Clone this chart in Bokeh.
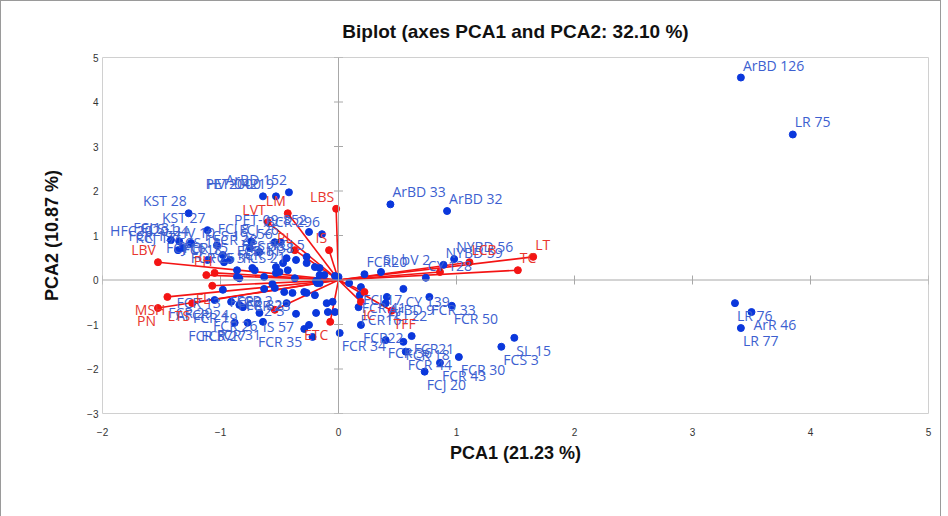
import numpy as np
from bokeh.plotting import figure
from bokeh.models import ColumnDataSource, Span, FixedTicker, Legend, LegendItem, Range1d
from bokeh.core.properties import value
from bokeh.embed import file_html
from bokeh.resources import INLINE

# ---------------- data ----------------
obs_names = [
    "ArBD 126", "LR 75", "LR 76", "ArR 46", "LR 77",
    "ArBD 33", "ArBD 32", "NYBD 56", "NYBD 59", "CY 128", "SL bV 2", "FCR20",
    "CY 139", "FCR 33", "FCR 50", "ArBD 9", "FCJ 17", "FCR 41", "FCR16", "FCJ 22",
    "FCR22", "FCR 34", "FCR21", "FCR 36", "FCR 18", "FCR 44", "FCR 43", "FCR 30", "FCJ 20",
    "FCS 3", "SL 15",
    "ArBD 152", "PET-04219", "HV 2000", "KST 28", "KST 27", "PET-09-852", "BCR 296",
    "FCJ13", "FCS-1", "HFC2020-24", "HV 10", "RCJ 17", "FCR 197", "FCJ 8", "56",
    "FCJ 26", "FCS 19", "FCR 28", "FCJ 5", "FCR 38", "FCS 38", "FCR 11", "FCJ 16",
    "FCS 12", "FCR 15", "FCR 25", "FCS 31", "FCR 9", "FCS 21", "FCJ 18",
    "", "", "", "", "", "", "", "", "", "", "", "", "", "", "", "", "", "", "", "",
    "FCR2", "FCR 2", "FCR 32", "FCR 23", "2-3", "IS 57", "FCR 26", "AFCR 24", "FCR 19",
    "FCR 37", "FCR 27", "FCR 31", "FCR 29", "FCR 13", "FCR 35",
    "", "", "", "", "", "", "", "", "", "",
]
obs_x = [
    3.41, 3.85, 3.36, 3.50, 3.41,
    0.44, 0.92, 0.98, 0.89, 0.74, 0.36, 0.22,
    0.55, 0.77, 0.96, 0.41, 0.19, 0.18, 0.17, 0.40,
    0.19, 0.01, 0.62, 0.40, 0.55, 0.57, 0.86, 1.02, 0.73,
    1.38, 1.49,
    -0.42, -0.53, -0.64, -1.27, -1.11, -0.25, -0.14,
    -1.42, -1.35, -1.25, -1.03, -1.36, -1.32, -0.74, -0.54,
    -0.49, -0.75, -0.67, -0.27, -0.36, -0.44, -0.47, -1.11,
    -0.98, -0.92, -0.86, -0.71, -0.53, -0.43, -0.97,
    -0.20, -0.63, -0.86, -0.73, -0.84, -0.53, -0.16, -0.12, -0.56, -0.27, -0.16, -0.03,
    0.00, -0.19, -0.18, 0.09, -0.29, -0.20, -0.05, -0.09,
    -0.63, -0.54, -0.46, -0.39, -0.44, -0.36, -0.67, -0.91, -0.84,
    -0.88, -0.77, -0.64, -1.05, -0.98, -0.29,
    -0.19, -0.27, -0.10, -0.03, -0.25, -0.22, -0.50, -0.37, -0.16, -0.81,
]
obs_y = [
    4.55, 3.27, -0.52, -0.72, -1.08,
    1.70, 1.55, 0.47, 0.34, 0.05, 0.18, 0.13,
    -0.20, -0.38, -0.58, -0.38, -0.16, -0.34, -0.61, -0.52,
    -1.01, -1.19, -1.26, -1.35, -1.39, -1.61, -1.86, -1.73, -2.06,
    -1.50, -1.30,
    1.97, 1.88, 1.88, 1.50, 1.12, 1.08, 1.03,
    0.90, 0.87, 0.83, 0.78, 0.67, 0.72, 0.87, 0.85,
    0.85, 0.72, 0.63, 0.52, 0.45, 0.49, 0.38, 0.45,
    0.56, 0.45, 0.22, 0.22, 0.29, 0.22, 0.40,
    0.29, 0.07, 0.07, 0.27, 0.04, 0.16, 0.27, 0.11, -0.09, 0.38, 0.11, 0.09,
    0.07, -0.02, -0.07, -0.07, -0.27, -0.34, -0.49, -0.72,
    -0.20, -0.18, -0.27, -0.29, -0.52, -0.76, -0.74, -0.49, -0.56,
    -0.96, -0.96, -0.94, -0.45, -0.22, -1.10,
    -0.74, -0.29, -0.52, -0.72, -1.01, -1.28, 0.18, 0.04, -0.07, -0.61,
]

var_names = ["LT", "TC", "LCB", "", "TFF", "IC", "", "ETC", "", "LBS", "LM", "LVT",
             "PL", "IS", "LBV", "PH", "", "FL", "MSH", "LTS", "PN"]
var_x = [1.65, 1.52, 1.11, 0.86, 0.45, 0.19, 0.22, -0.07, -0.54, -0.02, -0.43, -0.60,
         -0.37, -0.08, -1.53, -1.05, -1.12, -1.07, -1.45, -1.24, -1.53]
var_y = [0.52, 0.22, 0.40, 0.18, -0.69, -0.49, -0.27, -0.94, -0.67, 1.60, 1.50, 1.30,
         0.67, 0.67, 0.40, 0.16, 0.11, -0.13, -0.38, -0.52, -0.63]

x_ticks = [-2, -1, 0, 1, 2, 3, 4, 5]
y_ticks = [-3, -2, -1, 0, 1, 2, 3, 4, 5]

title_text = "Biplot (axes PCA1 and PCA2: 32.10 %)"
x_label = "PCA1 (21.23 %)"
y_label = "PCA2 (10.87 %)"
legend_labels = ["Active variables", "Active observations"]

# ---------------- styles ----------------
BLUE_PT = "#0a37dc"
BLUE_TX = "#3d5fd0"
RED = "#f41414"
RED_TX = "#e8362e"
FONT = "Open Sans"

p = figure(width=939, height=511, frame_width=826, frame_height=356,
           output_backend="svg", toolbar_location=None,
           x_range=Range1d(-2, 5), y_range=Range1d(-3, 5),
           min_border_left=101, min_border_right=12, min_border_top=56, min_border_bottom=10,
           title=title_text)
p.styles = {"border": "1px solid #9a9a9a"}
p.title.align = "center"
p.title.text_font = "Liberation Sans"
p.title.text_font_size = "19px"
p.title.text_font_style = "bold"
p.title.text_color = "#111111"
p.title.standoff = 31

p.outline_line_color = "#d0d0d0"
p.grid.visible = False

for ax, ticks, lab in ((p.xaxis[0], x_ticks, x_label), (p.yaxis[0], y_ticks, y_label)):
    ax.ticker = FixedTicker(ticks=ticks)
    ax.axis_line_color = None
    ax.major_tick_line_color = None
    ax.minor_tick_line_color = None
    ax.major_tick_out = 0
    ax.major_tick_in = 0
    ax.minor_tick_out = 0
    ax.minor_tick_in = 0
    ax.major_label_text_font = "Liberation Sans"
    ax.major_label_text_font_size = "10px"
    ax.major_label_text_color = "#333333"
    ax.axis_label = lab
    ax.axis_label_text_font = "Liberation Sans"
    ax.axis_label_text_font_size = "18px"
    ax.axis_label_text_font_style = "bold"
    ax.axis_label_text_color = "#111111"
p.xaxis.major_label_standoff = 14
p.xaxis.axis_label_standoff = 4
p.yaxis.major_label_standoff = 4
p.yaxis.axis_label_standoff = 22

# center lines with tick marks
p.add_layout(Span(location=0, dimension="height", line_color="#a8a8a8", line_width=1))
p.add_layout(Span(location=0, dimension="width", line_color="#a8a8a8", line_width=1))
p.scatter(x=[0] * len(y_ticks), y=y_ticks, marker="dash", size=9, line_color="#a8a8a8")
p.scatter(x=x_ticks, y=[0] * len(x_ticks), marker="dash", angle=np.pi / 2, size=9,
          line_color="#a8a8a8")

var_src = ColumnDataSource(dict(x=var_x, y=var_y, name=var_names))
obs_src = ColumnDataSource(dict(x=obs_x, y=obs_y, name=obs_names))

p.segment(x0=0, y0=0, x1="x", y1="y", source=var_src, line_color=RED, line_width=1.6)
r_obs = p.scatter("x", "y", source=obs_src, size=7, fill_color=BLUE_PT, line_color=BLUE_PT)
r_var = p.scatter("x", "y", source=var_src, size=7, fill_color=RED, line_color=RED)


def add_labels(names, xs, ys, color):
    for right in (False, True):
        for up in (False, True):
            sel = [i for i in range(len(names))
                   if names[i] and ((xs[i] >= 0) != right) and ((ys[i] >= 0) == up)]
            if not sel:
                continue
            src = ColumnDataSource(dict(x=[xs[i] for i in sel], y=[ys[i] for i in sel],
                                        t=[names[i] for i in sel]))
            p.text("x", "y", text="t", source=src,
                   text_font=value(FONT), text_font_size="14px", text_color=color,
                   text_align="right" if right else "left",
                   text_baseline="bottom" if up else "top",
                   x_offset=-2 if right else 2, y_offset=-3 if up else 3)


add_labels(obs_names, obs_x, obs_y, BLUE_TX)
add_labels(var_names, var_x, var_y, RED_TX)

legend = Legend(items=[LegendItem(label=legend_labels[0], renderers=[r_var]),
                       LegendItem(label=legend_labels[1], renderers=[r_obs])],
                orientation="horizontal", location="top_center",
                border_line_color="black", border_line_width=1.5,
                background_fill_alpha=1.0,
                label_text_font="Liberation Sans", label_text_font_size="17px",
                label_text_color="#111111", glyph_width=10, glyph_height=10,
                label_standoff=3, spacing=6, padding=3, margin=17)
p.add_layout(legend, "below")

open("out.html", "w").write(file_html(p, INLINE))
